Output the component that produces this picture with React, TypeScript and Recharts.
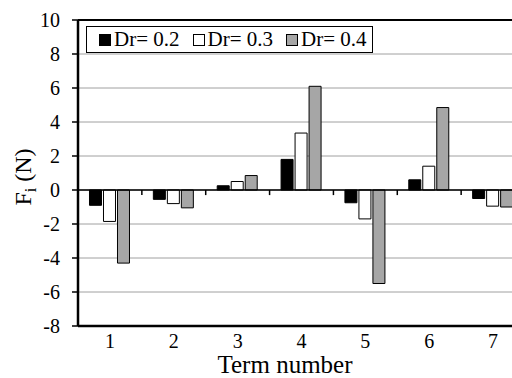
import { BarChart, Bar, XAxis, YAxis, CartesianGrid, ReferenceLine, Label } from 'recharts';

const terms = ['1', '2', '3', '4', '5', '6', '7'];
const dr02 = [-0.9, -0.55, 0.25, 1.8, -0.75, 0.6, -0.5];
const dr03 = [-1.85, -0.8, 0.5, 3.35, -1.7, 1.4, -0.95];
const dr04 = [-4.3, -1.05, 0.85, 6.1, -5.5, 4.85, -1.0];
const yTicks = [-8, -6, -4, -2, 0, 2, 4, 6, 8, 10];

const series = [
  { key: 'dr02', name: 'Dr= 0.2', fill: '#000000' },
  { key: 'dr03', name: 'Dr= 0.3', fill: '#ffffff' },
  { key: 'dr04', name: 'Dr= 0.4', fill: '#a6a6a6' },
];

const data = terms.map((t, i) => ({ term: t, dr02: dr02[i], dr03: dr03[i], dr04: dr04[i] }));

const FONT = '"Liberation Serif", "Times New Roman", serif';

function LegendBox() {
  return (
    <div
      style={{
        position: 'absolute',
        left: 86,
        top: 26,
        display: 'flex',
        gap: 13,
        alignItems: 'center',
        border: '1.5px solid #000',
        background: '#fff',
        height: 25,
        padding: '0 5px 0 12px',
        fontFamily: FONT,
        fontSize: 21,
        color: '#000',
        whiteSpace: 'nowrap',
      }}
    >
      {series.map((s) => (
        <span key={s.key} style={{ display: 'inline-flex', alignItems: 'center' }}>
          <span
            style={{
              display: 'inline-block',
              width: 10,
              height: 10,
              background: s.fill,
              border: '1px solid #000',
              marginRight: 3,
            }}
          />
          {s.name}
        </span>
      ))}
    </div>
  );
}

function XTick(props: any) {
  const { x, y, payload } = props;
  return (
    <text x={x} y={y + 18} textAnchor="middle" style={{ fontFamily: FONT, fontSize: 20, fill: '#000' }}>
      {payload.value}
    </text>
  );
}

function YTick(props: any) {
  const { x, y, payload } = props;
  return (
    <text x={x} y={y + 7} textAnchor="end" style={{ fontFamily: FONT, fontSize: 20, fill: '#000' }}>
      {payload.value}
    </text>
  );
}

function YTitle(props: any) {
  const { viewBox } = props;
  const cy = viewBox.y + viewBox.height / 2 + 4;
  const cx = 31;
  return (
    <text
      x={cx}
      y={cy}
      transform={`rotate(-90, ${cx}, ${cy})`}
      textAnchor="middle"
      style={{ fontFamily: FONT, fontSize: 24, fill: '#000' }}
    >
      F<tspan style={{ fontSize: 16 }} dy={5}>i</tspan>
      <tspan dy={-5}> (N)</tspan>
    </text>
  );
}

function XTitle() {
  return (
    <text x={285} y={373} textAnchor="middle" style={{ fontFamily: FONT, fontSize: 25, fill: '#000' }}>
      Term number
    </text>
  );
}

export default function App() {
  return (
    <div style={{ position: 'fixed', left: 0, top: 0, width: 512, height: 378, overflow: 'hidden', background: '#fff' }}>
      <BarChart
        width={540}
        height={378}
        data={data}
        margin={{ top: 20, right: 15, left: 0, bottom: 0 }}
        barCategoryGap="18%"
        barGap={2}
      >
        <CartesianGrid vertical={false} horizontal stroke="#a0a0a0" strokeWidth={1} />
        <XAxis
          dataKey="term"
          height={52}
          axisLine={false}
          tickLine={false}
          tickSize={0}
          tickMargin={4}
          tick={<XTick />}
        >
          <Label content={<XTitle />} />
        </XAxis>
        <YAxis
          domain={[-8, 10]}
          ticks={yTicks}
          interval={0}
          width={78}
          axisLine={{ stroke: '#000', strokeWidth: 2.5 }}
          tickLine={{ stroke: '#000', strokeWidth: 1.5 }}
          tickSize={6}
          tickMargin={12}
          tick={<YTick />}
        >
          <Label content={<YTitle />} />
        </YAxis>
        <ReferenceLine y={10} stroke="#000" strokeWidth={2} />
        <ReferenceLine y={-8} stroke="#000" strokeWidth={2.5} />
        {series.map((s) => (
          <Bar
            key={s.key}
            dataKey={s.key}
            name={s.name}
            fill={s.fill}
            stroke="#000"
            strokeWidth={1}
            isAnimationActive={false}
          />
        ))}
        <ReferenceLine y={0} stroke="#000" strokeWidth={1.5} />
        {terms.slice(1).map((t) => (
          <ReferenceLine
            key={`tk-${t}`}
            position="start"
            segment={[
              { x: t, y: 0 },
              { x: t, y: -0.3 },
            ]}
            stroke="#000"
            strokeWidth={1.5}
          />
        ))}
      </BarChart>
      <LegendBox />
    </div>
  );
}
